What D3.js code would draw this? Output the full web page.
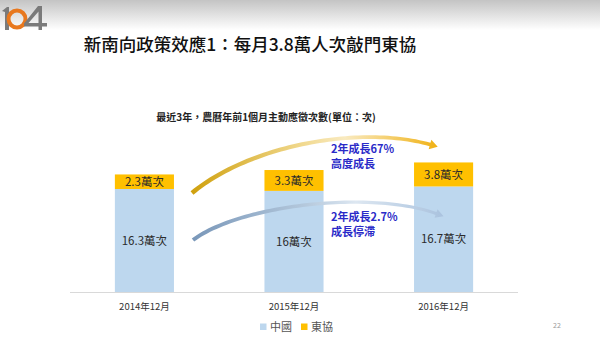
<!DOCTYPE html>
<html><head><meta charset="utf-8">
<script src="https://cdn.jsdelivr.net/npm/d3@7"></script>
<style>
html,body{margin:0;padding:0;background:#fff;}
svg{display:block;}
text{font-family:"Noto Sans CJK TC","Noto Sans",sans-serif;}
</style></head>
<body>
<svg id="c" width="600" height="341"></svg>
<script>
const categories = ["2014年12月", "2015年12月", "2016年12月"];
const china = [16.3, 16, 16.7];
const asean = [2.3, 3.3, 3.8];
const seriesNames = ["中國", "東協"];
const title = "新南向政策效應1：每月3.8萬人次敲門東協";
const subtitle = "最近3年，農曆年前1個月主動應徵次數(單位：次)";
const noteTop = ["2年成長67%", "高度成長"];
const noteBottom = ["2年成長2.7%", "成長停滯"];
const pageNo = "22";

const colors = {china: "#bdd7ee", asean: "#ffc000"};
const svg = d3.select("#c");
const defs = svg.append("defs");

// top gray gradient band
const bg = defs.append("linearGradient").attr("id","bg").attr("x1",0).attr("y1",0).attr("x2",0).attr("y2",1);
bg.append("stop").attr("offset","0%").attr("stop-color","#c4c4c4");
bg.append("stop").attr("offset","100%").attr("stop-color","#ffffff");
svg.append("rect").attr("x",0).attr("y",0).attr("width",600).attr("height",30).attr("fill","url(#bg)");

// logo 104
const logo = svg.append("g");
logo.append("path").attr("d","M2,11 L7,7 L9,7 L9,30 L5,30 L5,12 Z").attr("fill","#7a7a7a");
logo.append("circle").attr("cx",17).attr("cy",19).attr("r",8.5).attr("fill","none").attr("stroke","#e8781e").attr("stroke-width",4);
logo.append("path").attr("d","M38,6 L42,6 L42,23 L47,23 L47,26.5 L42,26.5 L42,30 L38.5,30 L38.5,26.5 L24,26.5 L24,23.5 Z M38.5,11.5 L28.5,23 L38.5,23 Z")
  .attr("fill","#7a7a7a").attr("fill-rule","evenodd");

// title
svg.append("text").attr("x",250).attr("y",51).attr("text-anchor","middle")
  .attr("font-size",17.5).attr("font-weight",500).attr("fill","#111").text(title);
svg.append("text").attr("x",266).attr("y",121).attr("text-anchor","middle")
  .attr("font-size",10).attr("font-weight","bold").attr("fill","#222").text(subtitle);

// scales
const x = d3.scaleBand().domain(categories).range([70, 518]).paddingInner(0.605).paddingOuter(0.3);
const y = d3.scaleLinear().domain([0, 25]).range([292, 134]);

const data = categories.map((c,i)=>({cat:c, china:china[i], asean:asean[i]}));
const stack = d3.stack().keys(["china","asean"])(data);

const barsG = svg.append("g");
stack.forEach(layer=>{
  barsG.selectAll(null).data(layer).enter().append("rect")
    .attr("x", d=>x(d.data.cat))
    .attr("y", d=>y(d[1]))
    .attr("width", x.bandwidth())
    .attr("height", d=>y(d[0])-y(d[1]))
    .attr("fill", colors[layer.key]);
  barsG.selectAll(null).data(layer).enter().append("text")
    .attr("x", d=>x(d.data.cat)+x.bandwidth()/2)
    .attr("y", d=>(y(d[0])+y(d[1]))/2)
    .attr("dy","0.36em")
    .attr("text-anchor","middle")
    .attr("font-size",11.5)
    .attr("fill","#2a2a2a")
    .text(d=>d3.format("~g")(d[1]-d[0])+"萬次");
});

// axis
const axisG = svg.append("g").attr("transform","translate(0,292)")
  .call(d3.axisBottom(x).tickSize(0).tickPadding(11));
axisG.select(".domain").attr("stroke","#d9d9d9").attr("stroke-width",1).attr("d","M70,0.5H518");
axisG.selectAll("text").attr("font-size",9.5).attr("fill","#333")
  .attr("font-family","\"Noto Sans CJK TC\",sans-serif");

// curved arrows
function arrow(p0,c1,c2,p3,w0,w1,headLen,headW,gradId){
  const N=60, L=[], R=[];
  const pt=t=>{const u=1-t;return [u*u*u*p0[0]+3*u*u*t*c1[0]+3*u*t*t*c2[0]+t*t*t*p3[0],
                                   u*u*u*p0[1]+3*u*u*t*c1[1]+3*u*t*t*c2[1]+t*t*t*p3[1]];};
  const dt=t=>{const u=1-t;return [3*u*u*(c1[0]-p0[0])+6*u*t*(c2[0]-c1[0])+3*t*t*(p3[0]-c2[0]),
                                   3*u*u*(c1[1]-p0[1])+6*u*t*(c2[1]-c1[1])+3*t*t*(p3[1]-c2[1])];};
  for(let i=0;i<=N;i++){
    const t=i/N, p=pt(t), d=dt(t), len=Math.hypot(d[0],d[1]);
    const nx=-d[1]/len, ny=d[0]/len, w=(w0+(w1-w0)*t)/2;
    L.push([p[0]+nx*w,p[1]+ny*w]); R.push([p[0]-nx*w,p[1]-ny*w]);
  }
  const d=dt(1), len=Math.hypot(d[0],d[1]), ux=d[0]/len, uy=d[1]/len, nx=-uy, ny=ux;
  const tip=[p3[0]+ux*headLen,p3[1]+uy*headLen];
  const h1=[p3[0]+nx*headW/2,p3[1]+ny*headW/2], h2=[p3[0]-nx*headW/2,p3[1]-ny*headW/2];
  const pts=[...L, h1, tip, h2, ...R.reverse()];
  svg.append("path").attr("d","M"+pts.map(p=>p[0].toFixed(2)+","+p[1].toFixed(2)).join("L")+"Z")
    .attr("fill","url(#"+gradId+")");
}
const go = defs.append("linearGradient").attr("id","gOr").attr("gradientUnits","userSpaceOnUse")
  .attr("x1",190).attr("y1",0).attr("x2",440).attr("y2",0);
go.append("stop").attr("offset","0%").attr("stop-color","#cfa00c");
go.append("stop").attr("offset","45%").attr("stop-color","#f1d98f");
go.append("stop").attr("offset","62%").attr("stop-color","#f9eac0");
go.append("stop").attr("offset","100%").attr("stop-color","#f0b010");
const gb = defs.append("linearGradient").attr("id","gBl").attr("gradientUnits","userSpaceOnUse")
  .attr("x1",190).attr("y1",0).attr("x2",445).attr("y2",0);
gb.append("stop").attr("offset","0%").attr("stop-color","#7896b8");
gb.append("stop").attr("offset","45%").attr("stop-color","#b4c8dc");
gb.append("stop").attr("offset","65%").attr("stop-color","#dde7f1");
gb.append("stop").attr("offset","100%").attr("stop-color","#a9c2de");

arrow([192,193],[250,145],[360,125],[430,144.5],4.5,3.5,8,10,"gOr");
arrow([193,240],[240,205],[370,190],[436,213.5],4,3,8,9,"gBl");

// annotations
const noteColor = "#2a2ac8";
[[noteTop,153],[noteBottom,221]].forEach(([lines,yy])=>{
  lines.forEach((s,i)=>svg.append("text").attr("x",331).attr("y",yy+i*15)
    .attr("font-size",11).attr("font-weight","bold").attr("fill",noteColor).text(s));
});

// legend
const leg = svg.append("g").attr("transform","translate(260,327)");
seriesNames.forEach((n,i)=>{
  const g=leg.append("g").attr("transform","translate("+(i*41)+",0)");
  g.append("rect").attr("x",0).attr("y",-3.5).attr("width",6.5).attr("height",6.5)
    .attr("fill",i===0?colors.china:colors.asean);
  g.append("text").attr("x",10).attr("y",0).attr("dy","0.36em").attr("font-size",11)
    .attr("fill","#555").text(n);
});

svg.append("text").attr("x",553).attr("y",328).attr("font-size",7).attr("fill","#999").text(pageNo);
</script>
</body></html>
